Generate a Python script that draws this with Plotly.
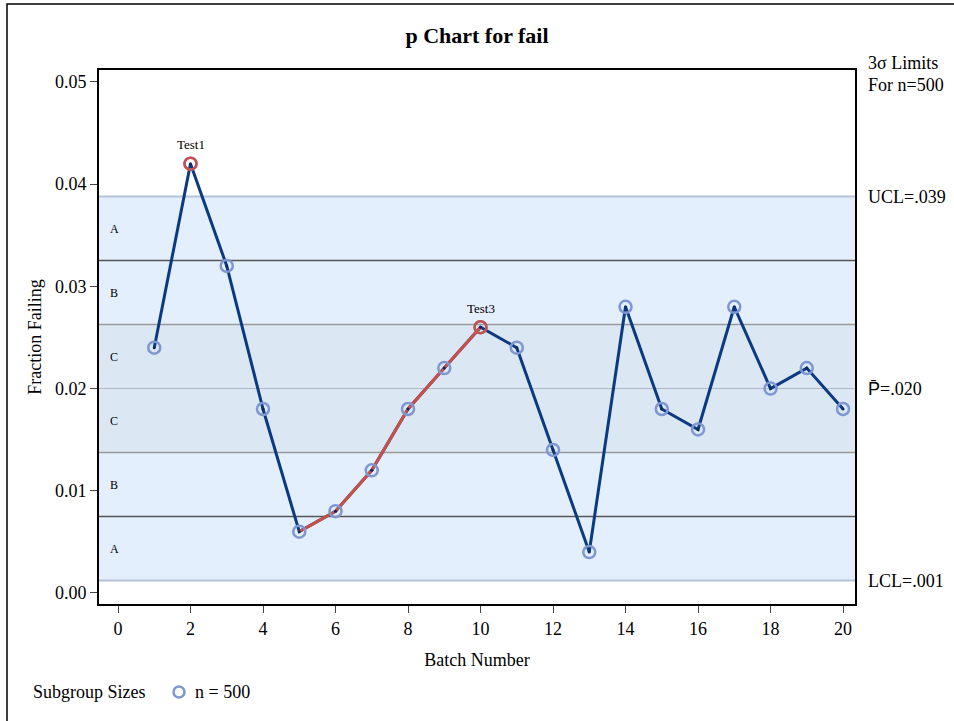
import plotly.graph_objects as go
import math

batch = list(range(1, 21))
fraction = [0.024, 0.042, 0.032, 0.018, 0.006, 0.008, 0.012, 0.018, 0.022, 0.026,
            0.024, 0.014, 0.004, 0.028, 0.018, 0.016, 0.028, 0.020, 0.022, 0.018]
n = 500
pbar = 0.020
sigma = math.sqrt(pbar * (1 - pbar) / n)
ucl = pbar + 3 * sigma
lcl = pbar - 3 * sigma
trend_batches = [5, 6, 7, 8, 9, 10]
flag_batches = [2, 10]
flag_labels = ["Test1", "Test3"]
x_ticks = list(range(0, 21, 2))
y_ticks = [0.0, 0.01, 0.02, 0.03, 0.04, 0.05]

SERIF = "Liberation Serif"
NAVY = "#0b3a80"
RED = "#c8504b"
RING = "#7f97d0"
FS = 18

W, H = 954, 721
L, R, T, B = 99, 99, 70, 117
PW, PH = W - L - R, H - T - B


def px(x):
    return (x - L) / PW


def py(y):
    return (H - B - y) / PH


fig = go.Figure()

shapes = []
shapes.append(dict(type="rect", xref="paper", yref="y", x0=0, x1=1, y0=lcl, y1=ucl,
                   fillcolor="#e4effd", line_width=0, layer="below"))
shapes.append(dict(type="rect", xref="paper", yref="y", x0=0, x1=1, y0=pbar - sigma, y1=pbar + sigma,
                   fillcolor="#dce7f4", line_width=0, layer="below"))
for yv, col, w in [(ucl, "#b6c2d8", 2), (lcl, "#b6c2d8", 2),
                   (pbar + 2 * sigma, "#555555", 1.5), (pbar - 2 * sigma, "#555555", 1.5),
                   (pbar + sigma, "#9a9a9a", 1.5), (pbar - sigma, "#9a9a9a", 1.5),
                   (pbar, "#b0b8c8", 1)]:
    shapes.append(dict(type="line", xref="paper", yref="y", x0=0, x1=1, y0=yv, y1=yv,
                       line=dict(color=col, width=w), layer="below"))
# outer frame
shapes.append(dict(type="rect", xref="paper", yref="paper",
                   x0=px(7), x1=px(965), y0=py(730), y1=py(4),
                   line=dict(color="black", width=1.5), fillcolor="rgba(0,0,0,0)", layer="below"))
# legend marker
shapes.append(dict(type="circle", xref="paper", yref="paper", xsizemode="pixel", ysizemode="pixel",
                   xanchor=px(179), yanchor=py(692), x0=-5.5, x1=5.5, y0=-5.5, y1=5.5,
                   line=dict(color=RING, width=2.5), fillcolor="rgba(0,0,0,0)"))

fig.add_trace(go.Scatter(x=batch, y=fraction, mode="lines",
                         line=dict(color=NAVY, width=3), showlegend=False, hoverinfo="skip"))
ty = [fraction[b - 1] for b in trend_batches]
fig.add_trace(go.Scatter(x=trend_batches, y=ty, mode="lines",
                         line=dict(color=RED, width=3), showlegend=False, hoverinfo="skip"))
fig.add_trace(go.Scatter(x=batch, y=fraction, mode="markers",
                         marker=dict(symbol="circle-open", size=12, color=RING, line=dict(width=2.5)),
                         name="n = 500", showlegend=False))
fy = [fraction[b - 1] for b in flag_batches]
fig.add_trace(go.Scatter(x=flag_batches, y=fy, mode="markers",
                         marker=dict(symbol="circle-open", size=12, color=RED, line=dict(width=2.5)),
                         showlegend=False))
fig.add_trace(go.Scatter(x=batch, y=fraction, mode="markers",
                         marker=dict(symbol="circle", size=3, color="#0b2a60"),
                         showlegend=False, hoverinfo="skip"))

annotations = []
for b, lab in zip(flag_batches, flag_labels):
    annotations.append(dict(x=b, y=fraction[b - 1], xref="x", yref="y", text=lab, showarrow=False,
                            yshift=19, yanchor="middle", font=dict(family=SERIF, size=13, color="black")))
zone_labels = [("A", pbar + 2.5 * sigma), ("B", pbar + 1.5 * sigma), ("C", pbar + 0.5 * sigma),
               ("C", pbar - 0.5 * sigma), ("B", pbar - 1.5 * sigma), ("A", pbar - 2.5 * sigma)]
for lab, yv in zone_labels:
    annotations.append(dict(x=0.012, y=yv, xref="paper", yref="y", text=lab, showarrow=False,
                            xanchor="left", yanchor="middle", font=dict(family=SERIF, size=12, color="black")))
right_font = dict(family=SERIF, size=FS, color="black")
rx = px(866)
annotations.append(dict(x=rx, y=py(63), xref="paper", yref="paper", text="3σ Limits",
                        showarrow=False, xanchor="left", yanchor="middle", font=right_font))
annotations.append(dict(x=rx, y=py(85), xref="paper", yref="paper", text="For n=500",
                        showarrow=False, xanchor="left", yanchor="middle", font=right_font))
annotations.append(dict(x=rx, y=ucl, xref="paper", yref="y", text="UCL=" + ("%.3f" % ucl).lstrip("0"),
                        showarrow=False, xanchor="left", yanchor="middle", font=right_font))
annotations.append(dict(x=rx, y=pbar, xref="paper", yref="y",
                        text="<span style='font-family:Liberation Sans'>P\u0304</span>=" + ("%.3f" % pbar).lstrip("0"),
                        showarrow=False, xanchor="left", yanchor="middle", font=right_font))
annotations.append(dict(x=rx, y=lcl, xref="paper", yref="y", text="LCL=" + ("%.3f" % lcl).lstrip("0"),
                        showarrow=False, xanchor="left", yanchor="middle", font=right_font))
annotations.append(dict(x=px(31), y=py(692), xref="paper", yref="paper", text="Subgroup Sizes",
                        showarrow=False, xanchor="left", yanchor="middle", font=right_font))
annotations.append(dict(x=px(193), y=py(692), xref="paper", yref="paper", text="n = " + str(n),
                        showarrow=False, xanchor="left", yanchor="middle", font=right_font))

fig.update_layout(
    width=W, height=H,
    margin=dict(l=L, r=R, t=T, b=B),
    paper_bgcolor="white", plot_bgcolor="white",
    font=dict(family=SERIF, size=FS, color="black"),
    title=dict(text="<b>p Chart for fail</b>", x=0.5, xanchor="center", y=1 - 35 / H, yanchor="middle",
               font=dict(family=SERIF, size=22)),
    shapes=shapes, annotations=annotations,
    showlegend=False,
    xaxis=dict(range=[-0.524, 20.33], tickvals=x_ticks, ticks="outside", ticklen=7, tickwidth=1,
               showline=True, mirror=True, linecolor="black", linewidth=2, showgrid=False, zeroline=False,
               title=dict(text="Batch Number", font=dict(family=SERIF, size=FS), standoff=16),
               tickfont=dict(family=SERIF, size=FS)),
    yaxis=dict(range=[-0.00108, 0.05117], tickvals=y_ticks, tickformat=".2f", ticks="outside", ticklen=7,
               tickwidth=1, showline=True, mirror=True, linecolor="black", linewidth=2, showgrid=False,
               zeroline=False,
               title=dict(text="Fraction Failing", font=dict(family=SERIF, size=FS), standoff=9),
               tickfont=dict(family=SERIF, size=FS)),
)

fig.write_html("out.html", config={"displayModeBar": False},
               post_script="document.body.style.margin='0px';document.body.style.overflow='hidden';")
